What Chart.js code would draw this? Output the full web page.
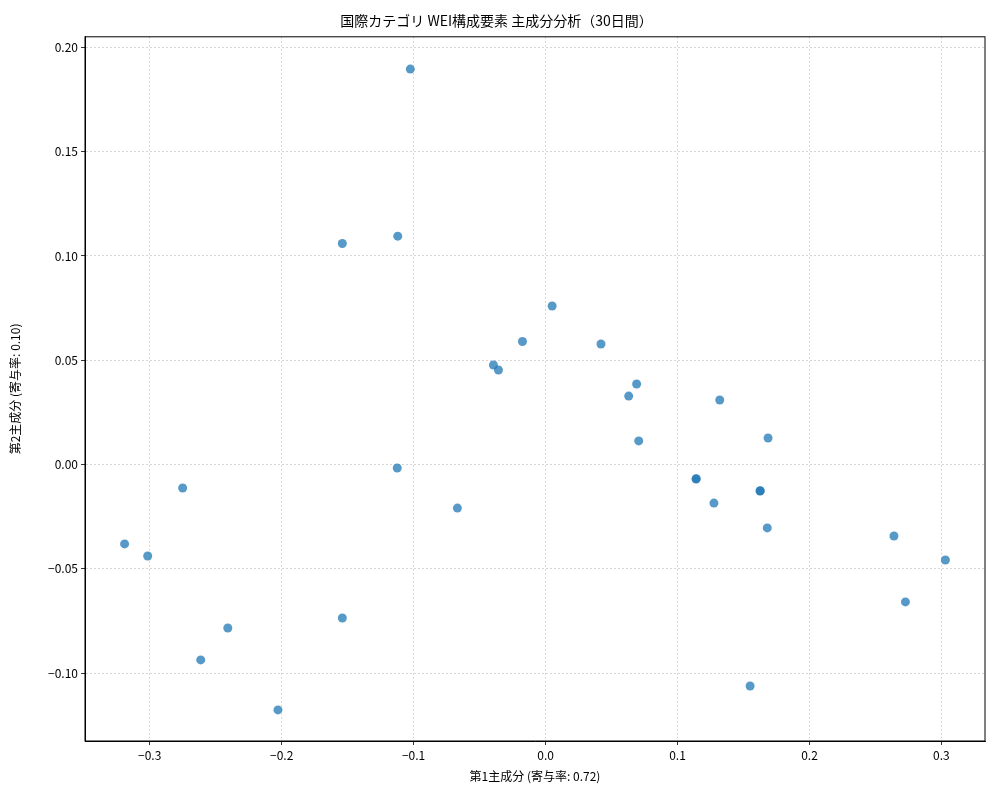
<!DOCTYPE html>
<html><head><meta charset="utf-8">
<script src="https://cdn.jsdelivr.net/npm/chart.js@4"></script>
<style>body{margin:0;background:#fff}#wrap{width:1000px;height:800px}</style>
</head><body><div id="wrap"><canvas id="c"></canvas></div>
<script>
var pc1 = [-0.1025, -0.154, -0.112, 0.005, -0.0175, 0.042, -0.0395, -0.0357, 0.069, 0.063, 0.132, 0.1686, 0.0706, -0.1124, -0.275, 0.114, 0.1142, 0.1625, 0.1627, -0.0668, 0.1276, 0.168, 0.264, -0.319, -0.3015, 0.303, 0.2727, -0.154, -0.2408, -0.2613, 0.155, -0.2028];
var pc2 = [0.1896, 0.106, 0.1095, 0.076, 0.059, 0.0578, 0.0477, 0.0453, 0.0386, 0.0328, 0.0309, 0.0127, 0.0113, -0.0017, -0.0113, -0.007, -0.0068, -0.0127, -0.0126, -0.0209, -0.0185, -0.0304, -0.0343, -0.0381, -0.0439, -0.0458, -0.0659, -0.0736, -0.0784, -0.0937, -0.1062, -0.1177];
var xTicks = [-0.3, -0.2, -0.1, 0.0, 0.1, 0.2, 0.3];
var yTicks = [-0.10, -0.05, 0.00, 0.05, 0.10, 0.15, 0.20];

var pts = pc1.map(function (x, i) { return { x: x, y: pc2[i] }; });
var font = "'Noto Sans CJK JP', 'Noto Sans', sans-serif";
Chart.defaults.font.family = font;
Chart.defaults.color = '#000';

function fmt(v, d) { return v.toFixed(d).replace('-', '\u2212'); }
function grid() {
  return { color: '#cccccc', lineWidth: 0.8, drawTicks: true, tickColor: '#000', tickLength: 4, tickBorderDash: [] };
}

new Chart('c', {
  type: 'scatter',
  data: { datasets: [{ data: pts, backgroundColor: 'rgba(31,119,180,0.75)', borderWidth: 0, pointRadius: 4.5 }] },
  options: {
    responsive: true, maintainAspectRatio: false, animation: false,
    layout: { padding: { right: 15, left: 8, bottom: 16 } },
    plugins: {
      legend: { display: false }, tooltip: { enabled: false },
      title: { display: true, text: '国際カテゴリ WEI構成要素 主成分分析（30日間）', font: { size: 14, weight: 'normal' }, padding: { top: 12, bottom: 8 } }
    },
    scales: {
      x: {
        min: -0.349, max: 0.333,
        afterBuildTicks: function (s) { s.ticks = xTicks.map(function (v) { return { value: v }; }); },
        afterFit: function (s) { s.height = 43; },
        ticks: { font: { size: 12 }, callback: function (v) { return fmt(v, 1); } },
        grid: grid(), border: { color: '#000', dash: [2, 2] },
        title: { display: true, text: '第1主成分 (寄与率: 0.72)', font: { size: 12 }, padding: 0 }
      },
      y: {
        min: -0.1326, max: 0.2051,
        afterBuildTicks: function (s) { s.ticks = yTicks.map(function (v) { return { value: v }; }); },
        afterFit: function (s) { s.width = 77; },
        ticks: { font: { size: 12 }, callback: function (v) { return fmt(v, 2); } },
        grid: grid(), border: { color: '#000', dash: [2, 2] },
        title: { display: true, text: '第2主成分 (寄与率: 0.10)', font: { size: 12 }, padding: 0 }
      }
    }
  },
  plugins: [{
    id: 'frame',
    afterDraw: function (c) {
      var a = c.chartArea, x = c.ctx;
      x.save(); x.strokeStyle = '#000'; x.lineWidth = 1;
      x.strokeRect(a.left, a.top, a.right - a.left, a.bottom - a.top); x.restore();
    }
  }]
});
</script></body></html>
